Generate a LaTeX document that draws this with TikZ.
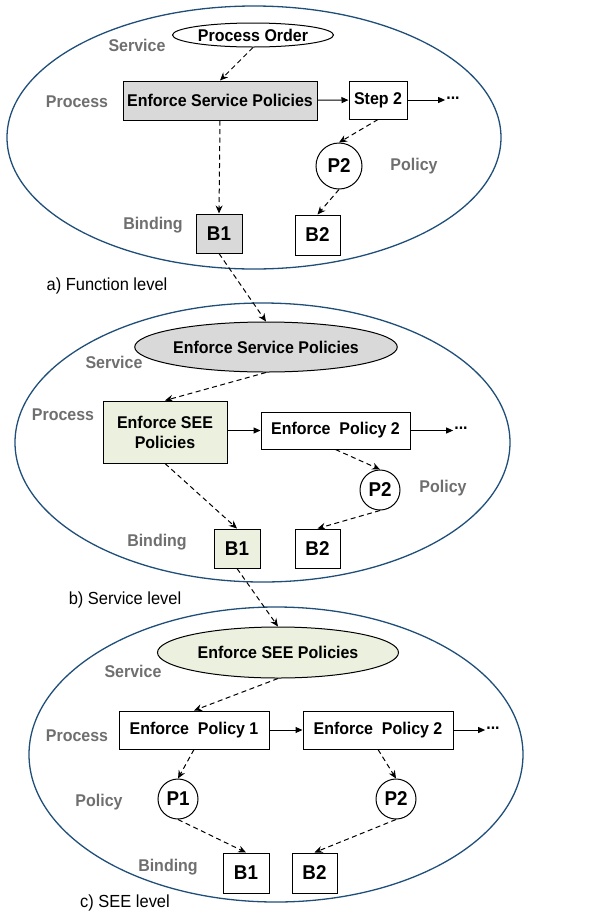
\documentclass[tikz,border=0pt]{standalone}
\usepackage{fontspec}
\setmainfont{Liberation Sans}[FakeStretch=0.94]
\usepackage{tikz}
\usetikzlibrary{shapes.geometric,arrows.meta}
\definecolor{levelblue}{HTML}{1f4e79}
\definecolor{labelgray}{HTML}{6f6f6f}
\definecolor{boxgray}{HTML}{d9d9d9}
\definecolor{boxgreen}{HTML}{ebf1de}

\begin{document}
\begin{tikzpicture}[x=1pt, y=-1pt,
  level/.style={ellipse, draw=levelblue, line width=1.3pt, inner sep=0pt},
  service/.style={ellipse, draw, line width=1pt, inner sep=0pt, minimum width=241, minimum height=50, font=\bfseries\fontsize{17}{19}\selectfont},
  stepbox/.style={rectangle, draw, line width=1pt, inner sep=0pt, minimum height=38, font=\bfseries\fontsize{17}{20}\selectfont, align=center},
  bindbox/.style={rectangle, draw, line width=1pt, inner sep=0pt, minimum width=46, minimum height=39, font=\bfseries\fontsize{20}{22}\selectfont},
  policy/.style={circle, draw, line width=1pt, inner sep=0pt, font=\bfseries\fontsize{20}{22}\selectfont},
  layer/.style={font=\bfseries\fontsize{17}{19}\selectfont, text=labelgray},
  caption/.style={font=\fontsize{17.5}{19}\selectfont},
  more/.style={font=\bfseries\fontsize{17}{19}\selectfont, inner sep=1pt},
  arrow/.style={-{Triangle[length=7pt,width=6pt]}, line width=1pt},
  dasharrow/.style={-{Stealth[length=8pt,width=7pt]}, line width=1pt, dash pattern=on 5pt off 3.5pt}
]
\useasboundingbox (0,0) rectangle (595,914);

\node[level, minimum width=494, minimum height=263] (lvA) at (254,137.5) {};
\node[service, minimum width=161, minimum height=24] (poA) at (253,35) {Process Order};
\node[stepbox, fill=boxgray, minimum width=194, minimum height=39] (espA) at (220,100.5) {Enforce Service Policies};
\node[stepbox, minimum width=58] (s2A) at (378,100) {Step 2};
\node[more] (dotsA) at (453,98) {...};
\node[policy, minimum size=46] (p2A) at (339,166) {P2};
\node[bindbox, fill=boxgray] (b1A) at (219,233.5) {B1};
\node[bindbox, minimum width=45, minimum height=40] (b2A) at (317.5,235) {B2};
\node[layer] (svA) at (137,45) {Service};
\node[layer] (prA) at (77,102) {Process};
\node[layer] (plA) at (414,166) {Policy};
\node[layer] (bdA) at (153,225) {Binding};
\node[caption] (capA) at (107,286) {a) Function level};
\draw[dasharrow] (poA.south) -- (espA.north);
\draw[arrow] (espA) -- (s2A);
\draw[arrow] (s2A) -- (dotsA.west |- s2A);
\draw[dasharrow] (s2A.south) -- (p2A.north);
\draw[dasharrow] (p2A.south) -- (b2A.north);
\draw[dasharrow] (espA.south) -- (b1A.north);

\node[level, minimum width=495, minimum height=279] (lvB) at (262.5,442.5) {};
\node[service, fill=boxgray] (espB) at (266,347) {Enforce Service Policies};
\node[stepbox, fill=boxgreen, minimum width=124, minimum height=62] (seeB) at (165,432) {Enforce SEE\\Policies};
\node[stepbox, minimum width=149, minimum height=37] (ep2B) at (335.5,430.5) {Enforce\ \ Policy 2};
\node[more] (dotsB) at (461,428) {...};
\node[policy, minimum size=40] (p2B) at (380,490) {P2};
\node[bindbox, fill=boxgreen] (b1B) at (237,548.5) {B1};
\node[bindbox, minimum width=45] (b2B) at (317.5,548.5) {B2};
\node[layer] (svB) at (114,362) {Service};
\node[layer] (prB) at (63,415) {Process};
\node[layer] (plB) at (443,488) {Policy};
\node[layer] (bdB) at (157,542) {Binding};
\node[caption] (capB) at (125,600) {b) Service level};
\draw[dasharrow] (b1A.south) -- (espB.north);
\draw[dasharrow] (espB.south) -- (seeB.north);
\draw[arrow] (seeB.east |- ep2B) -- (ep2B);
\draw[arrow] (ep2B) -- (dotsB.west |- ep2B);
\draw[dasharrow] (ep2B.south) -- (p2B.north);
\draw[dasharrow] (p2B.south) -- (b2B.north);
\draw[dasharrow] (seeB.south) -- (b1B.north);

\node[level, minimum width=494, minimum height=295] (lvC) at (276,754.5) {};
\node[service, fill=boxgreen, minimum height=51] (seeC) at (278,652.5) {Enforce SEE Policies};
\node[stepbox, minimum width=150] (ep1C) at (194,730) {Enforce\ \ Policy 1};
\node[stepbox, minimum width=150] (ep2C) at (378,730) {Enforce\ \ Policy 2};
\node[more] (dotsC) at (493,728) {...};
\node[policy, minimum size=40] (p1C) at (178,799) {P1};
\node[policy, minimum size=40] (p2C) at (396,799) {P2};
\node[bindbox, minimum height=40] (b1C) at (246,873) {B1};
\node[bindbox, minimum width=45, minimum height=40] (b2C) at (314.5,873) {B2};
\node[layer] (svC) at (133,671) {Service};
\node[layer] (prC) at (77,736) {Process};
\node[layer] (plC) at (99,802) {Policy};
\node[layer] (bdC) at (168,867) {Binding};
\node[caption] (capC) at (125,903) {c) SEE level};
\draw[dasharrow] (b1B.south) -- (seeC.north);
\draw[dasharrow] (seeC.south) -- (ep1C.north);
\draw[arrow] (ep1C) -- (ep2C);
\draw[arrow] (ep2C) -- (dotsC.west |- ep2C);
\draw[dasharrow] (ep1C.south) -- (p1C.north);
\draw[dasharrow] (ep2C.south) -- (p2C.north);
\draw[dasharrow] (p1C.south) -- (b1C.north);
\draw[dasharrow] (p2C.south) -- (b2C.north);
\end{tikzpicture}
\end{document}
